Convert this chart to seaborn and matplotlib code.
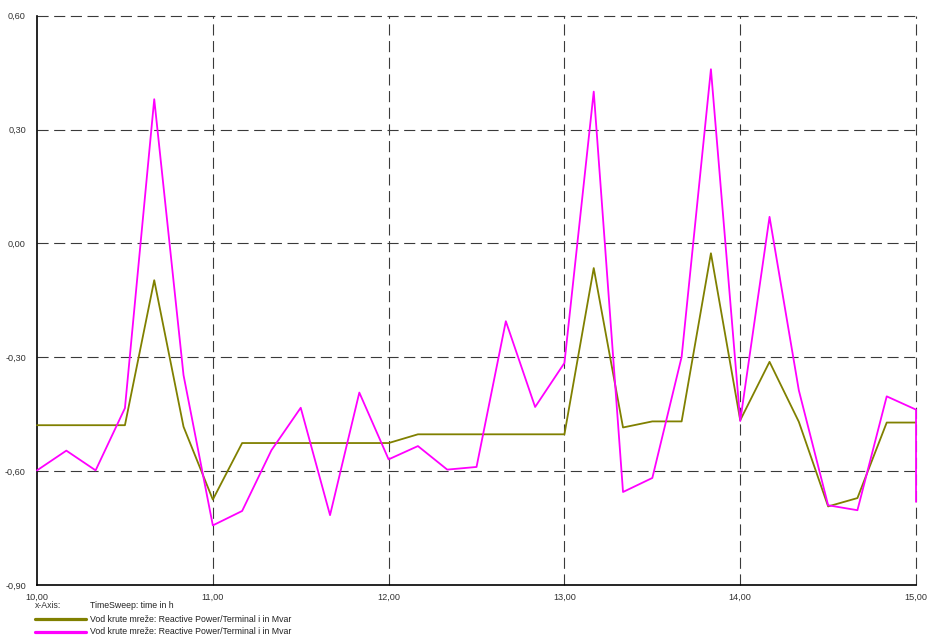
import matplotlib
matplotlib.use("Agg")
import matplotlib.pyplot as plt
from matplotlib.lines import Line2D
from matplotlib.ticker import FuncFormatter, MultipleLocator
import seaborn as sns
import pandas as pd

# time in h, one value every 10 minutes (last point repeated for the final drop)
time_h = [10.0, 10.1667, 10.3333, 10.5, 10.6667, 10.8333,
          11.0, 11.1667, 11.3333, 11.5, 11.6667, 11.8333,
          12.0, 12.1667, 12.3333, 12.5, 12.6667, 12.8333,
          13.0, 13.1667, 13.3333, 13.5, 13.6667, 13.8333,
          14.0, 14.1667, 14.3333, 14.5, 14.6667, 14.8333,
          15.0, 15.0]

q_olive = [-0.479, -0.479, -0.479, -0.479, -0.097, -0.483,
           -0.675, -0.526, -0.526, -0.526, -0.526, -0.526,
           -0.526, -0.503, -0.503, -0.503, -0.503, -0.503,
           -0.503, -0.065, -0.485, -0.469, -0.469, -0.026,
           -0.466, -0.312, -0.470, -0.693, -0.671, -0.472,
           -0.472, -0.472]

q_magenta = [-0.598, -0.546, -0.598, -0.434, 0.380, -0.347,
             -0.743, -0.705, -0.545, -0.433, -0.716, -0.393,
             -0.569, -0.534, -0.596, -0.589, -0.205, -0.431,
             -0.315, 0.400, -0.655, -0.618, -0.299, 0.459,
             -0.468, 0.070, -0.387, -0.690, -0.703, -0.403,
             -0.438, -0.681]

series_label = "Vod krute mreže: Reactive Power/Terminal i in Mvar"
x_label = "TimeSweep: time in h"

olive = "#808000"
magenta = "#FF00FF"

sns.set_style("white")
plt.rcParams["font.family"] = ["Liberation Sans", "DejaVu Sans"]

fig = plt.figure(figsize=(9.28, 6.38), dpi=100)
ax = fig.add_axes([0.0399, 0.0831, 0.9472, 0.8923])

df = pd.DataFrame({"t": time_h, "olive": q_olive, "magenta": q_magenta})
sns.lineplot(data=df, x="t", y="olive", color=olive, lw=1.3, ax=ax,
             sort=False, estimator=None)
sns.lineplot(data=df, x="t", y="magenta", color=magenta, lw=1.3, ax=ax,
             sort=False, estimator=None)

ax.set_xlim(10, 15)
ax.set_ylim(-0.9, 0.6)
ax.xaxis.set_major_locator(MultipleLocator(1))
ax.xaxis.set_minor_locator(MultipleLocator(0.5))
ax.yaxis.set_major_locator(MultipleLocator(0.3))
ax.yaxis.set_minor_locator(MultipleLocator(0.15))
fmt = FuncFormatter(lambda v, p: f"{v:.2f}".replace(".", ","))
ax.xaxis.set_major_formatter(fmt)
ax.yaxis.set_major_formatter(fmt)
ax.set_xlabel("")
ax.set_ylabel("")

ax.tick_params(which="major", direction="out", length=3, width=0.8,
               labelsize=6.6, labelcolor="#333333", color="black")
ax.tick_params(axis="x", which="major", pad=2.5)
ax.tick_params(axis="y", which="major", pad=5)
ax.tick_params(which="minor", direction="in", length=3, width=0.8,
               color="#333333")

for s in ["top", "right"]:
    ax.spines[s].set_visible(False)
for s in ["left", "bottom"]:
    ax.spines[s].set_color("black")
    ax.spines[s].set_linewidth(1.2)

grid_kw = dict(color="#3a3a3a", lw=0.8, dashes=(10, 5), zorder=0.5,
               clip_on=False)
for yv in [-0.6, -0.3, 0.0, 0.3, 0.6]:
    ax.axhline(yv, **grid_kw)
for xv in [11, 12, 13, 14, 15]:
    ax.axvline(xv, **grid_kw)
for line in ax.lines[:2]:
    line.set_zorder(3)
    line.set_clip_on(False)

# legend block below the plot
fs = 6.3
fig.text(35 / 928, 1 - 606 / 638, "x-Axis:", fontsize=fs, color="#333333",
         va="center", ha="left")
fig.text(90 / 928, 1 - 606 / 638, x_label, fontsize=fs, color="#222222",
         va="center", ha="left")
for ypx, col in [(619, olive), (631.5, magenta)]:
    yf = 1 - ypx / 638
    fig.add_artist(Line2D([35 / 928, 86 / 928], [yf, yf], color=col, lw=2.3,
                          transform=fig.transFigure))
    fig.text(90 / 928, yf, series_label, fontsize=fs, color="#222222",
             va="center", ha="left")

fig.savefig("out.png", dpi=100, facecolor="white")
